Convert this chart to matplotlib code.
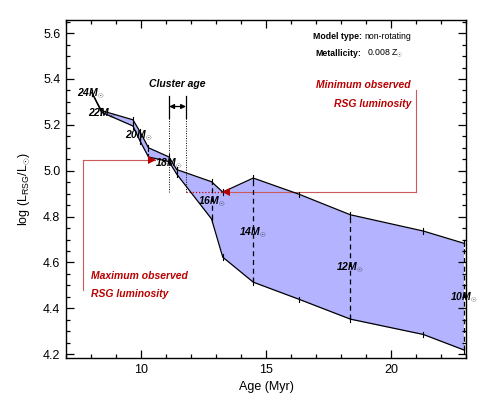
import matplotlib
matplotlib.use("Agg")
import matplotlib.pyplot as plt
import numpy as np
from matplotlib.ticker import MultipleLocator, FormatStrFormatter

plt.rcParams["font.family"] = ["Liberation Sans", "DejaVu Sans"]
plt.rcParams["mathtext.fontset"] = "custom"
plt.rcParams["mathtext.rm"] = "Liberation Sans"
plt.rcParams["mathtext.it"] = "Liberation Sans:italic"
# \mathbf is only used for the mass labels, which are bold italic
plt.rcParams["mathtext.bf"] = "Liberation Sans:italic:bold"

# RSG phase of each initial mass: age (Myr) and log L range
masses = [24, 22, 21, 20, 19, 18, 17, 16, 15, 14, 13, 12, 11, 10]
ages = [8.04, 8.42, 9.68, 9.96, 10.3, 11.12, 11.43, 12.82, 13.27, 14.49, 16.33, 18.37, 21.29, 22.9]
logl_max = [5.34, 5.262, 5.222, 5.17, 5.10, 5.06, 5.005, 4.952, 4.907, 4.968, 4.897, 4.808, 4.737, 4.684]
logl_min = [5.34, 5.255, 5.195, 5.13, 5.06, 5.04, 4.985, 4.79, 4.623, 4.514, 4.439, 4.353, 4.286, 4.219]

# labelled masses and where their labels sit
label_masses = [24, 22, 20, 18, 16, 14, 12, 10]
label_x = [8.0, 8.44, 9.92, 11.12, 12.82, 14.48, 18.36, 22.9]
label_y = [5.333, 5.25, 5.154, 5.032, 4.863, 4.731, 4.578, 4.447]

# observed luminosity limits and cluster age
max_obs_logl = 5.048
max_obs_x = [7.67, 10.56]
max_obs_bottom = 4.481
min_obs_logl = 4.907
min_obs_x = [13.27, 21.0]
min_obs_top = 5.353
cluster_age = [11.13, 11.8]

RED_LINE = "#cc5a5a"
RED_TEXT = "#b80000"
FILL = "#b3b3ff"

fig = plt.figure(figsize=(4.85, 4.01), dpi=100)
ax = fig.add_axes([0.136, 0.107, 0.825, 0.843])

ages_a = np.array(ages)
hi = np.array(logl_max)
lo = np.array(logl_min)

# shaded band between the tracks
ax.fill_between(ages_a, lo, hi, color=FILL, lw=0, zorder=1)
ax.plot(ages_a, hi, color="k", lw=0.9, zorder=3)
ax.plot(ages_a, lo, color="k", lw=0.9, zorder=3)
tick_h = 0.012
for a, h, l, m in zip(ages, logl_max, logl_min, masses):
    ax.plot([a, a], [h - tick_h, h + tick_h], color="k", lw=0.8, zorder=3)
    ax.plot([a, a], [l - tick_h, l + tick_h], color="k", lw=0.8, zorder=3)
    if m % 2 == 0 and h - l > 0.03:
        ax.plot([a, a], [l, h], color="k", lw=0.9, ls=(0, (4, 3)), zorder=3)

for m, x, y in zip(label_masses, label_x, label_y):
    ax.text(x, y, r"$\mathbf{%dM}_{\odot}$" % m, fontsize=7.5,
            ha="center", va="center", zorder=5)

# maximum observed RSG luminosity
ax.plot([max_obs_x[0], max_obs_x[0]], [max_obs_bottom, max_obs_logl], color=RED_LINE, lw=0.8)
ax.plot(max_obs_x, [max_obs_logl] * 2, color=RED_LINE, lw=0.8)
ax.plot(max_obs_x[1] - 0.12, max_obs_logl, marker=">", ms=6, color=RED_TEXT, mew=0, zorder=4)
ax.text(8.0, 4.54, "Maximum observed", color=RED_TEXT, fontsize=7.5,
        fontweight="bold", style="italic", va="center")
ax.text(8.0, 4.464, "RSG luminosity", color=RED_TEXT, fontsize=7.5,
        fontweight="bold", style="italic", va="center")

# minimum observed RSG luminosity
ax.plot(min_obs_x, [min_obs_logl] * 2, color=RED_LINE, lw=0.8)
ax.plot([min_obs_x[1], min_obs_x[1]], [min_obs_logl, min_obs_top], color=RED_LINE, lw=0.8)
ax.plot([cluster_age[1], min_obs_x[0]], [min_obs_logl] * 2, color="#cc0000", lw=0.9,
        ls=(0, (1, 1.5)), zorder=2)
ax.plot(min_obs_x[0] + 0.12, min_obs_logl, marker="<", ms=6, color=RED_TEXT, mew=0, zorder=4)
ax.text(20.8, 5.372, "Minimum observed", color=RED_TEXT, fontsize=7.5,
        fontweight="bold", style="italic", va="center", ha="right")
ax.text(20.8, 5.292, "RSG luminosity", color=RED_TEXT, fontsize=7.5,
        fontweight="bold", style="italic", va="center", ha="right")

# cluster age bracket
for xa in cluster_age:
    ax.plot([xa, xa], [5.232, 5.328], color="k", lw=0.9)
    ax.plot([xa, xa], [min_obs_logl, 5.232], color="k", lw=0.7, ls=(0, (1, 1.5)))
ax.annotate("", xy=(cluster_age[0], 5.28), xytext=(cluster_age[1], 5.28),
            arrowprops=dict(arrowstyle="<|-|>", color="k", lw=0.9,
                            mutation_scale=7, shrinkA=0, shrinkB=0))
ax.text(sum(cluster_age) / 2, 5.38, "Cluster age", fontsize=7.5, fontweight="bold",
        style="italic", ha="center", va="center")

# model info
ax.text(18.84, 5.586, "Model type:", fontsize=6.3, fontweight="bold", ha="right", va="center")
ax.text(18.92, 5.586, "non-rotating", fontsize=6.3, ha="left", va="center")
ax.text(18.8, 5.513, "Metallicity:", fontsize=6.3, fontweight="bold", ha="right", va="center")
ax.text(19.02, 5.513, r"0.008 Z$_{\odot}$", fontsize=6.3, ha="left", va="center")

ax.set_xlim(7, 23)
ax.set_ylim(4.183, 5.657)
ax.xaxis.set_major_locator(MultipleLocator(5))
ax.xaxis.set_minor_locator(MultipleLocator(1))
ax.yaxis.set_major_locator(MultipleLocator(0.2))
ax.yaxis.set_minor_locator(MultipleLocator(0.05))
ax.yaxis.set_major_formatter(FormatStrFormatter("%.1f"))
ax.tick_params(which="both", direction="in", top=True, right=True, labelsize=9, width=0.9)
ax.tick_params(which="major", length=6, pad=4)
ax.tick_params(which="minor", length=3)
for s in ax.spines.values():
    s.set_linewidth(1.0)

ax.set_xlabel("Age (Myr)", fontsize=9, labelpad=4)
ax.set_ylabel(r"log (L$_{\mathrm{RSG}}$/L$_{\odot}$)", fontsize=9, labelpad=8)

fig.savefig("out.png", dpi=100)
